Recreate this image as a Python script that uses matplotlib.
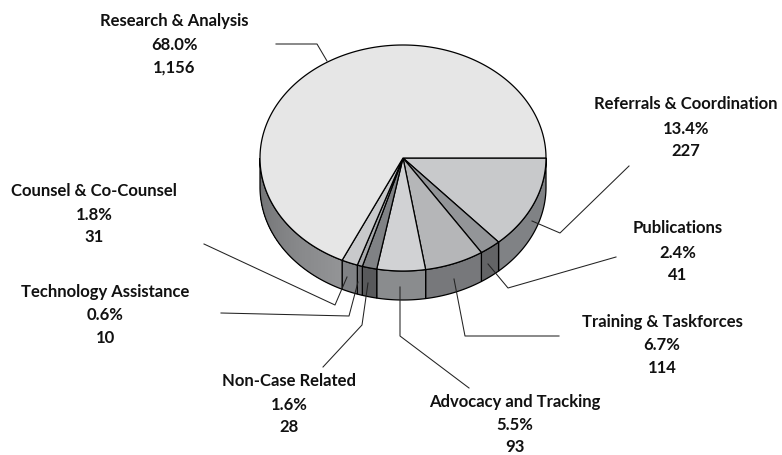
import numpy as np
import matplotlib
matplotlib.use("Agg")
import matplotlib.pyplot as plt
from matplotlib.colors import to_rgb
from matplotlib.patches import Polygon

# clockwise from 3 o'clock
labels = ["Referrals & Coordination", "Publications", "Training & Taskforces",
          "Advocacy and Tracking", "Non-Case Related", "Technology Assistance",
          "Counsel & Co-Counsel", "Research & Analysis"]
percents = ["13.4%", "2.4%", "6.7%", "5.5%", "1.6%", "0.6%", "1.8%", "68.0%"]
counts = [227, 41, 114, 93, 28, 10, 31, 1156]

top_colors = ["#c8c9cb", "#939598", "#b5b6b8", "#d1d2d4", "#808285", "#a7a9ac", "#c8c9cb", "#e6e6e6"]
side_colors = ["#808285", "#636466", "#77787b", "#8a8c8e", "#58595b", "#6d6e71", "#808285", "#939496"]
research_side_dark = "#6f7072"

# label centres (name, percent, count rows) and leader lines, in pixels
label_pos = [(686, 104, 128.5, 151), (677.5, 228, 252.5, 275.5), (662, 321.5, 345.5, 368),
             (515, 401.5, 425, 446.5), (289, 380.5, 404.5, 427), (105, 291.5, 315.5, 338),
             (94, 191.5, 215.5, 237.5), (174, 21, 45, 67.5)]
leaders = [
    [(532, 221), (560, 233), (629, 166)],
    [(488, 264), (508, 288), (616, 257)],
    [(454, 279), (465, 336), (559, 336)],
    [(400, 287), (400, 336), (469, 388)],
    [(368, 283), (362, 325), (323, 367)],
    [(358, 282), (349, 316), (221, 313)],
    [(347, 277), (335, 305), (204, 244)],
    [(327, 61), (317, 44), (276, 44)],
]

CX, CY, RX, RY = 403, 158, 143, 113
DEPTH = 29

plt.rcParams["font.family"] = ["Lato", "DejaVu Sans"]

fig = plt.figure(figsize=(7.82, 4.55), dpi=100)
ax = fig.add_axes([0, 0, 1, 1])
ax.set_xlim(0, 782)
ax.set_ylim(455, 0)
ax.axis("off")


def rim(a0, a1):
    t = np.radians(np.linspace(a0, a1, max(int(abs(a1 - a0) * 2), 2)))
    return CX + RX * np.cos(t), CY + RY * np.sin(t)


def wall(a0, a1):
    x, y = rim(a0, a1)
    return np.column_stack([np.r_[x, x[::-1]], np.r_[y, y[::-1] + DEPTH]])


edges = np.concatenate([[0], np.cumsum(counts) / sum(counts) * 360])

# side wall, only the front half shows
for i in range(len(counts)):
    a0, a1 = edges[i], min(edges[i + 1], 180)
    if a0 >= 180:
        continue
    if i == len(counts) - 1:
        # big slice darkens towards the left edge, strips overlap to hide seams
        steps = np.linspace(a0, a1, 40)
        c0, c1 = np.array(to_rgb(side_colors[i])), np.array(to_rgb(research_side_dark))
        for j in range(len(steps) - 1):
            f = j / (len(steps) - 2)
            ax.add_patch(Polygon(wall(steps[j], a1), fc=c0 + (c1 - c0) * f, ec="none", zorder=1))
        ax.add_patch(Polygon(wall(a0, a1), fc="none", ec="black", lw=0.9, zorder=1.5))
    else:
        ax.add_patch(Polygon(wall(a0, a1), fc=side_colors[i], ec="black", lw=0.9, zorder=1))

# top face
for i in range(len(counts)):
    x, y = rim(edges[i], edges[i + 1])
    pts = np.column_stack([np.r_[CX, x], np.r_[CY, y]])
    ax.add_patch(Polygon(pts, fc=top_colors[i], ec="black", lw=0.9, joinstyle="round", zorder=2))

for line in leaders:
    xs, ys = zip(*line)
    ax.plot(xs, ys, color="#222222", lw=0.75, zorder=3)

for name, pct, cnt, (x, y0, y1, y2) in zip(labels, percents, counts, label_pos):
    ax.text(x, y0, name, ha="center", va="center", fontsize=12, fontweight="bold", color="#111111")
    ax.text(x, y1, pct, ha="center", va="center", fontsize=12, fontweight="bold", color="#111111")
    ax.text(x, y2, f"{cnt:,}", ha="center", va="center", fontsize=12, fontweight="bold", color="#111111")

fig.savefig("out.png", dpi=100)
plt.close(fig)
